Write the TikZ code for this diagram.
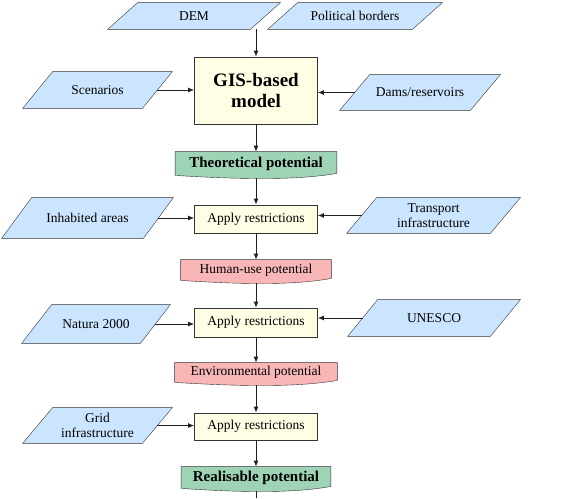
\documentclass[tikz,border=0pt]{standalone}
\usepackage{fontspec}
\setmainfont{Liberation Serif}
\usepackage{xcolor}
\definecolor{DarkGrey}{HTML}{333333}
\definecolor{InputBlue}{HTML}{CCE5FF}
\definecolor{ModelYellow}{HTML}{FFFDE4}
\definecolor{PotGreen}{HTML}{9FD3B6}
\definecolor{PotRed}{HTML}{F8B6B7}
\usepackage{tikz}
\usetikzlibrary{calc,arrows.meta,backgrounds}
\newcommand\Mid{256}
\newcommand\Slant{30pt}
\newcommand\HalfSlant{15pt}
\newcommand\BoxWidth{123pt}
\tikzstyle{dataio}=[rectangle,inner sep=0pt,align=center]
\tikzstyle{process}=[rectangle,draw=DarkGrey,fill=ModelYellow,inner sep=0pt,
                     minimum width=\BoxWidth,align=center]
\tikzstyle{potential}=[rectangle,inner sep=0pt]
\tikzstyle{flow}=[-{Latex[length=6pt,width=5pt]},DarkGrey!60!black,line width=0.8pt]

\begin{document}
\begin{tikzpicture}[x=1pt,y=-1pt,line width=0.8pt,
                    every node/.style={font=\fontsize{13.5}{15}\selectfont}]
      \useasboundingbox (0,0) rectangle (567,498);
      % inputs
      \node[dataio,minimum width=172pt,minimum height=26pt] (dem) at (194,16) {DEM};
      \node[dataio,minimum width=174pt,minimum height=26pt] (pol) at (355,16) {Political borders};
      \node[dataio,minimum width=149pt,minimum height=36pt] (scen) at (97.5,90) {Scenarios};
      \node[dataio,minimum width=160pt,minimum height=35pt] (dams) at (420,92.5) {Dams/reservoirs};
      \node[dataio,minimum width=171pt,minimum height=40pt] (inhab) at (87.5,218) {Inhabited areas};
      \node[dataio,minimum width=173pt,minimum height=35pt] (trans) at (433.5,215.5) {Transport\\infrastructure};
      \node[dataio,minimum width=148pt,minimum height=38pt] (natura) at (96,324) {Natura 2000};
      \node[dataio,minimum width=172pt,minimum height=36pt] (unesco) at (434,318) {UNESCO};
      \node[dataio,minimum width=149pt,minimum height=35pt] (grid) at (97.5,425.5) {Grid\\infrastructure};
      % model and restrictions
      \node[process,minimum height=67pt,font=\fontsize{19}{21}\selectfont\bfseries] (gis) at (\Mid,90.5) {GIS-based\\model};
      \node[process,minimum height=28pt] (app1) at (\Mid,219) {Apply restrictions};
      \node[process,minimum height=29pt] (app2) at (\Mid,322.5) {Apply restrictions};
      \node[process,minimum height=27pt] (app3) at (\Mid,426.5) {Apply restrictions};
      % potentials
      \node[potential,minimum width=161pt,minimum height=23pt,font=\fontsize{15}{16}\selectfont\bfseries] (theo) at (\Mid,163.5) {Theoretical potential};
      \node[potential,minimum width=150pt,minimum height=20pt] (human) at (\Mid,270) {Human-use potential};
      \node[potential,minimum width=162pt,minimum height=19pt] (env) at (\Mid,372.5) {Environmental potential};
      \node[potential,minimum width=149pt,minimum height=21pt,font=\fontsize{15}{16}\selectfont\bfseries] (real) at (\Mid,477.5) {Realisable potential};
      \coordinate (out) at (\Mid,498);
      \begin{scope}[on background layer]
        \foreach \n in {dem,pol,scen,dams,inhab,trans,natura,unesco,grid}
          \draw[draw=DarkGrey,fill=InputBlue] (\n.south west) -- ([xshift=\Slant]\n.north west)
            -- (\n.north east) -- ([xshift=-\Slant]\n.south east) -- cycle;
        \foreach \n/\c in {theo/PotGreen,human/PotRed,env/PotRed,real/PotGreen}
          \draw[draw=DarkGrey,fill=\c] (\n.north west) -- (\n.north east) -- ($(\n.south east)+(0,-2)$)
            .. controls ($(\n.south west)!0.75!(\n.south east)+(0,5)$) and ($(\n.south west)!0.4!(\n.south east)+(0,4)$)
            .. (\n.south west) -- cycle;
      \end{scope}
      % connectors
      \draw[flow] (gis.north |- dem.south) -- (gis.north);
      \draw[flow] ([xshift=-\HalfSlant]scen.east) -- (scen.east -| gis.west);
      \draw[flow] ([xshift=\HalfSlant]dams.west) -- (dams.west -| gis.east);
      \draw[flow] (gis.south) -- (theo.north);
      \draw[flow] ([yshift=-3pt]theo.south) -- (app1.north);
      \draw[flow] ([xshift=-\HalfSlant]inhab.east) -- (inhab.east -| app1.west);
      \draw[flow] ([xshift=\HalfSlant]trans.west) -- (trans.west -| app1.east);
      \draw[flow] (app1.south) -- (human.north);
      \draw[flow] ([yshift=-3pt]human.south) -- (app2.north);
      \draw[flow] ([xshift=-\HalfSlant]natura.east) -- (natura.east -| app2.west);
      \draw[flow] ([xshift=\HalfSlant]unesco.west) -- (unesco.west -| app2.east);
      \draw[flow] (app2.south) -- (env.north);
      \draw[flow] ([yshift=-3pt]env.south) -- (app3.north);
      \draw[flow] ([xshift=-\HalfSlant]grid.east) -- (grid.east -| app3.west);
      \draw[flow] (app3.south) -- (real.north);
      \draw[DarkGrey!60!black] ([yshift=-3pt]real.south) -- (out);
   \end{tikzpicture}
\end{document}
